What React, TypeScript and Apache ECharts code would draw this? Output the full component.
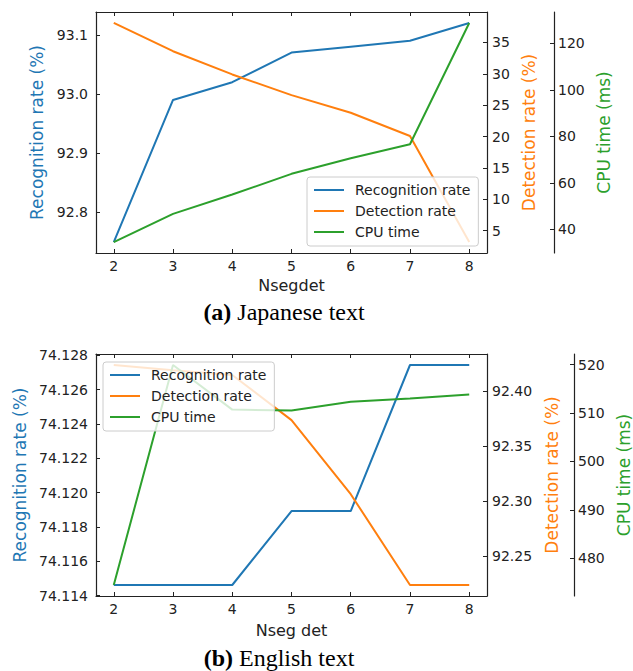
import React, { useEffect, useRef } from "react";
import * as echarts from "echarts";

const xs = [2, 3, 4, 5, 6, 7, 8];
const xTicks = [2, 3, 4, 5, 6, 7, 8];

// (a) Japanese text
const jpRecognition = [92.75, 92.99, 93.02, 93.07, 93.08, 93.09, 93.12];
const jpDetection = [38.1, 33.6, 29.9, 26.6, 23.8, 20.1, 3.2];
const jpCpu = [34.6, 46.7, 55.0, 63.9, 70.6, 76.6, 128.7];
const jpRecTicks = [92.8, 92.9, 93.0, 93.1];
const jpDetTicks = [5, 10, 15, 20, 25, 30, 35];
const jpCpuTicks = [40, 60, 80, 100, 120];

// (b) English text
const enRecognition = [74.11462, 74.11462, 74.11462, 74.11893, 74.11893, 74.12744, 74.12744];
const enDetection = [92.4236, 92.4188, 92.4145, 92.3734, 92.306, 92.2234, 92.2234];
const enCpu = [474.5, 519.9, 510.7, 510.5, 512.3, 513.0, 513.8];
const enRecTicks = [74.114, 74.116, 74.118, 74.12, 74.122, 74.124, 74.126, 74.128];
const enDetTicks = [92.25, 92.3, 92.35, 92.4];
const enCpuTicks = [480, 490, 500, 510, 520];

const seriesNames = ["Recognition rate", "Detection rate", "CPU time"];
const BLUE = "#1f77b4";
const ORANGE = "#ff7f0e";
const GREEN = "#2ca02c";
const INK = "#222";
const FONT = "DejaVu Sans";

function pad(vals: number[]) {
  const lo = Math.min(...vals);
  const hi = Math.max(...vals);
  const m = (hi - lo) * 0.05;
  return { min: lo - m, max: hi + m };
}

function xAxes(gridIndex: number) {
  const ext = pad(xs);
  return [
    {
      type: "value",
      gridIndex,
      position: "bottom",
      min: ext.min,
      max: ext.max,
      name: gridIndex === 0 ? "Nsegdet" : "Nseg det",
      nameLocation: "middle",
      nameGap: gridIndex === 0 ? 24 : 26,
      nameTextStyle: { color: INK, fontSize: 16, fontFamily: FONT },
      axisLine: { show: true, lineStyle: { color: INK, width: 1.2 } },
      axisTick: { show: true, inside: true, length: 4, customValues: xTicks, lineStyle: { color: INK } },
      axisLabel: { show: true, customValues: xTicks, color: INK, fontSize: 14, fontFamily: FONT, margin: 6, formatter: (v: number) => String(v) },
      splitLine: { show: false },
    },
    {
      type: "value",
      gridIndex,
      position: "top",
      min: ext.min,
      max: ext.max,
      axisLine: { show: true, lineStyle: { color: INK, width: 1.2 } },
      axisTick: { show: true, inside: true, length: 4, customValues: xTicks, lineStyle: { color: INK } },
      axisLabel: { show: false },
      splitLine: { show: false },
    },
  ];
}

function yAxis(
  gridIndex: number,
  vals: number[],
  ticks: number[],
  digits: number,
  position: string,
  offset: number,
  name: string,
  color: string,
  nameGap: number,
  margin: number
) {
  const ext = pad(vals);
  return {
    type: "value",
    gridIndex,
    position,
    offset,
    min: ext.min,
    max: ext.max,
    name,
    nameLocation: "middle",
    nameRotate: 90,
    nameGap,
    nameTextStyle: { color, fontSize: 17, fontFamily: FONT },
    axisLine: { show: true, onZero: false, lineStyle: { color: INK, width: 1.2 } },
    axisTick: { show: true, inside: true, length: 4, customValues: ticks, lineStyle: { color: INK } },
    axisLabel: {
      show: true,
      customValues: ticks,
      color: INK,
      fontSize: 14,
      fontFamily: FONT,
      margin,
      formatter: (v: number) => v.toFixed(digits),
    },
    splitLine: { show: false },
  };
}

function lineSeries(name: string, vals: number[], xAxisIndex: number, yAxisIndex: number, color: string) {
  return {
    type: "line",
    name,
    xAxisIndex,
    yAxisIndex,
    data: xs.map((x, i) => [x, vals[i]]),
    symbol: "none",
    color,
    lineStyle: { color, width: 2 },
    z: 2,
  };
}

function legend(left: number, top: number) {
  return {
    show: true,
    orient: "vertical",
    left,
    top,
    data: seriesNames,
    itemWidth: 30,
    itemHeight: 14,
    itemGap: 7,
    padding: [6, 8, 7, 6],
    backgroundColor: "rgba(255,255,255,0.8)",
    borderColor: "#cccccc",
    borderWidth: 1,
    borderRadius: 3,
    itemStyle: { opacity: 0 },
    lineStyle: { width: 2 },
    textStyle: { color: INK, fontSize: 14, fontFamily: FONT, padding: [0, 0, 0, 6] },
    z: 10,
  };
}

export default function App() {
  const ref = useRef<HTMLDivElement>(null);
  useEffect(() => {
    if (!ref.current) return;
    const chart = echarts.init(ref.current, null, { renderer: "svg" });
    const option: any = {
      animation: false,
      backgroundColor: "#ffffff",
      grid: [
        { left: 96, right: 146, top: 12, height: 241, containLabel: false, outerBoundsMode: "none" },
        { left: 96, right: 146, top: 354, height: 242, containLabel: false, outerBoundsMode: "none" },
      ],
      xAxis: [...xAxes(0), ...xAxes(1)],
      yAxis: [
        yAxis(0, jpRecognition, jpRecTicks, 1, "left", 0, "Recognition rate (%)", BLUE, 49, 8),
        yAxis(0, jpDetection, jpDetTicks, 0, "right", 0, "Detection rate (%)", ORANGE, 33, 5),
        yAxis(0, jpCpu, jpCpuTicks, 0, "right", 67, "CPU time (ms)", GREEN, 39, 4),
        yAxis(1, enRecognition, enRecTicks, 3, "left", 0, "Recognition rate (%)", BLUE, 66, 8),
        yAxis(1, enDetection, enDetTicks, 2, "right", 0, "Detection rate (%)", ORANGE, 56, 5),
        yAxis(1, enCpu, enCpuTicks, 0, "right", 87, "CPU time (ms)", GREEN, 40, 4),
      ],
      legend: [legend(307, 177), legend(103, 362)],
      series: [
        lineSeries(seriesNames[0], jpRecognition, 0, 0, BLUE),
        lineSeries(seriesNames[1], jpDetection, 0, 1, ORANGE),
        lineSeries(seriesNames[2], jpCpu, 0, 2, GREEN),
        lineSeries(seriesNames[0], enRecognition, 2, 3, BLUE),
        lineSeries(seriesNames[1], enDetection, 2, 4, ORANGE),
        lineSeries(seriesNames[2], enCpu, 2, 5, GREEN),
      ],
      graphic: [
        {
          type: "text",
          x: 284,
          y: 312,
          style: {
            text: "{b|(a)} Japanese text",
            align: "center",
            verticalAlign: "middle",
            fontSize: 24,
            fontFamily: "Liberation Serif",
            fill: "#000",
            rich: { b: { fontWeight: "bold", fontSize: 24, fontFamily: "Liberation Serif", fill: "#000" } },
          },
        },
        {
          type: "text",
          x: 279,
          y: 658,
          style: {
            text: "{b|(b)} English text",
            align: "center",
            verticalAlign: "middle",
            fontSize: 24,
            fontFamily: "Liberation Serif",
            fill: "#000",
            rich: { b: { fontWeight: "bold", fontSize: 24, fontFamily: "Liberation Serif", fill: "#000" } },
          },
        },
      ],
    };
    chart.setOption(option);
    return () => chart.dispose();
  }, []);
  return (
    <div
      ref={ref}
      style={{ position: "fixed", left: 0, top: 0, width: 633, height: 671, background: "#fff" }}
    />
  );
}
